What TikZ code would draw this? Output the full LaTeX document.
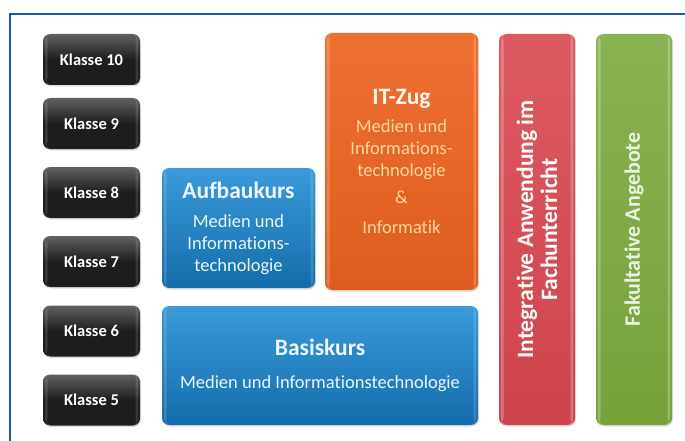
\documentclass[tikz,border=0pt]{standalone}
\usepackage{fontspec}
\setmainfont[Ligatures=NoCommon]{Carlito}
\usetikzlibrary{shadows}

\definecolor{rahmen}{HTML}{1C5AA8}
\definecolor{klasse}{HTML}{1E1C1C}
\definecolor{blau}{HTML}{1888D4}
\definecolor{orange}{HTML}{EC6320}
\definecolor{orangetext}{HTML}{FBD7A4}
\definecolor{rot}{HTML}{D94750}
\definecolor{gruen}{HTML}{7CAA3E}

\newcommand\titel{\bfseries\fontsize{23.5}{24}\selectfont}

\tikzset{
  kasten/.style={rounded corners=7pt, inner sep=0pt, align=center,
    drop shadow={shadow xshift=1pt, shadow yshift=-1.5pt, opacity=.25}},
  % helle Streifen an den Seiten fuer den Glanz
  glanz/.style={path picture={
    \fill[white, opacity=#1] ([xshift=2pt]path picture bounding box.south west)
      rectangle ([xshift=4.5pt]path picture bounding box.north west);
    \fill[white, opacity=#1] ([xshift=-2pt]path picture bounding box.south east)
      rectangle ([xshift=-4.5pt]path picture bounding box.north east);}},
  glanz/.default=.25,
  klassebox/.style={kasten, glanz=.12, minimum width=97pt, minimum height=51pt,
    top color=klasse!70, bottom color=klasse, middle color=klasse,
    text=white, font=\bfseries\fontsize{16.5}{18}\selectfont},
  blaubox/.style={kasten, glanz=.15, top color=blau!85!white, bottom color=blau!80!black,
    text=white!92!blau, font=\fontsize{18.5}{22}\selectfont},
  orangebox/.style={kasten, glanz=.2, top color=orange!92!white, bottom color=orange!94!black,
    text=orangetext, font=\fontsize{18.5}{22}\selectfont},
  saeule/.style={kasten, glanz, minimum width=76pt, minimum height=391pt}
}

\begin{document}
\begin{tikzpicture}[x=1pt, y=-1pt]
\useasboundingbox (0,0) rectangle (685,441);
\fill[white] (0,0) rectangle (685,441);
\draw[rahmen, line width=2.5pt] (10,441) -- (10,14) -- (685,14);

\foreach \n/\y in {10/59.5, 9/123.5, 8/192.5, 7/261.5, 6/331, 5/400}
  \node[klassebox] (k\n) at (91.5,\y) {Klasse \n};

\node[blaubox, minimum width=153pt, minimum height=120pt] (aufbau) at (238.5,228)
  {{\titel Aufbaukurs}\\[7pt] Medien und\\ Informations-\\ technologie};
\node[orangebox, minimum width=153pt, minimum height=257pt] (itzug) at (401.5,161.5)
  {{\titel\color{white!85!orangetext} IT-Zug}\\[6pt] Medien und\\ Informations-\\ technologie\\[5pt] \&\\[8pt] Informatik};
\node[blaubox, minimum width=316pt, minimum height=119pt] (basis) at (320,365.5)
  {{\titel Basiskurs}\\[11pt] Medien und Informationstechnologie};

\node[saeule, top color=rot!90!white, bottom color=rot!95!black] (integ) at (537,229.5) {};
\node[rotate=90, align=center, text=white, font=\bfseries\fontsize{23.5}{24}\selectfont]
  (integtext) at (integ.center) {Integrative Anwendung im\\ Fachunterricht};
\node[saeule, top color=gruen!90!white, bottom color=gruen!95!black] (fakult) at (634,229.5) {};
\node[rotate=90, text=gruen!15!white, font=\bfseries\fontsize{22}{24}\selectfont]
  (fakulttext) at (fakult.center) {Fakultative Angebote};
\end{tikzpicture}
\end{document}
